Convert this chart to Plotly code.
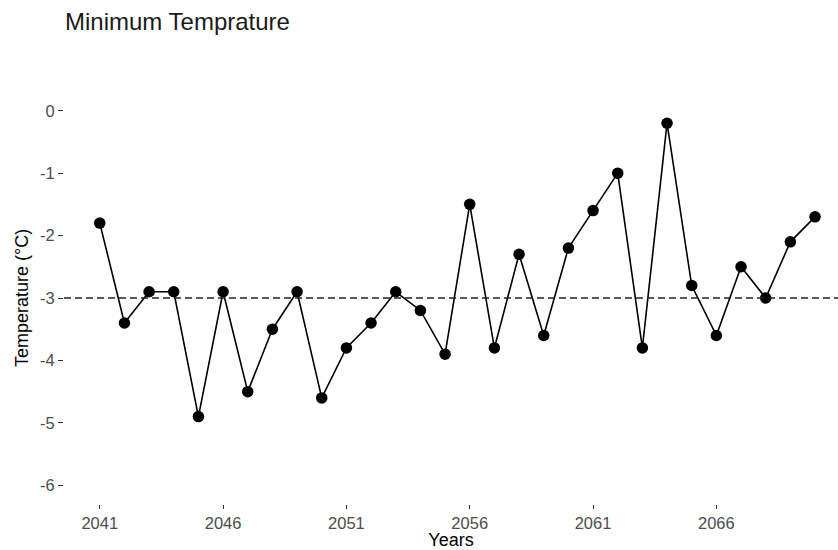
import plotly.graph_objects as go

years = list(range(2041, 2071))
min_temp = [-1.8, -3.4, -2.9, -2.9, -4.9, -2.9, -4.5, -3.5, -2.9, -4.6,
            -3.8, -3.4, -2.9, -3.2, -3.9, -1.5, -3.8, -2.3, -3.6, -2.2,
            -1.6, -1.0, -3.8, -0.2, -2.8, -3.6, -2.5, -3.0, -2.1, -1.7]
reference_level = -3
x_ticks = [2041, 2046, 2051, 2056, 2061, 2066]
y_ticks = [0, -1, -2, -3, -4, -5, -6]
y_tick_labels = ["0", "-1", "-2", "-3", "-4", "-5", "-6"]

FONT = "Liberation Sans, Arial, sans-serif"

fig = go.Figure()
fig.add_trace(go.Scatter(
    x=years, y=min_temp, mode="lines+markers",
    line=dict(color="black", width=1.6),
    marker=dict(color="black", size=11.5),
    showlegend=False,
))
fig.add_shape(type="line", xref="paper", x0=0, x1=1, yref="y",
              y0=reference_level, y1=reference_level,
              line=dict(color="#222222", width=1.4, dash="7px,4px"))

px_per_year = 24.68
x_left = 2041 - 1.45
x_right = 2041 + (838 - 99.3) / px_per_year

fig.update_layout(
    width=838, height=550,
    margin=dict(l=64, r=0, t=92, b=46),
    paper_bgcolor="white", plot_bgcolor="white",
    font=dict(family=FONT, color="#4d4d4d"),
    title=dict(text="Minimum Temprature", x=65 / 838, xref="container",
               xanchor="left", y=1 - 22 / 550, yanchor="middle",
               font=dict(size=24, color="#1a1a1a", family=FONT)),
    xaxis=dict(range=[x_left, x_right], tickvals=x_ticks, automargin=False,
               ticks="outside", ticklen=4, tickcolor="#333333", tickwidth=1,
               showgrid=False, zeroline=False, showline=False,
               tickfont=dict(size=16.5, color="#4d4d4d"),
               title=dict(text="Years", standoff=2,
                          font=dict(size=18, color="black"))),
    yaxis=dict(range=[-6.3, 0.3], tickvals=y_ticks, ticktext=y_tick_labels,
               automargin=False,
               ticks="outside", ticklen=5, tickcolor="#333333", tickwidth=1,
               showgrid=False, zeroline=False, showline=False,
               tickfont=dict(size=16.5, color="#4d4d4d"),
               title=dict(text="Temperature (°C)", standoff=6,
                          font=dict(size=18, color="black"))),
)

fig.write_html("out.html", config={"displayModeBar": False},
               post_script="document.body.style.margin='0';document.body.style.overflow='hidden';")
